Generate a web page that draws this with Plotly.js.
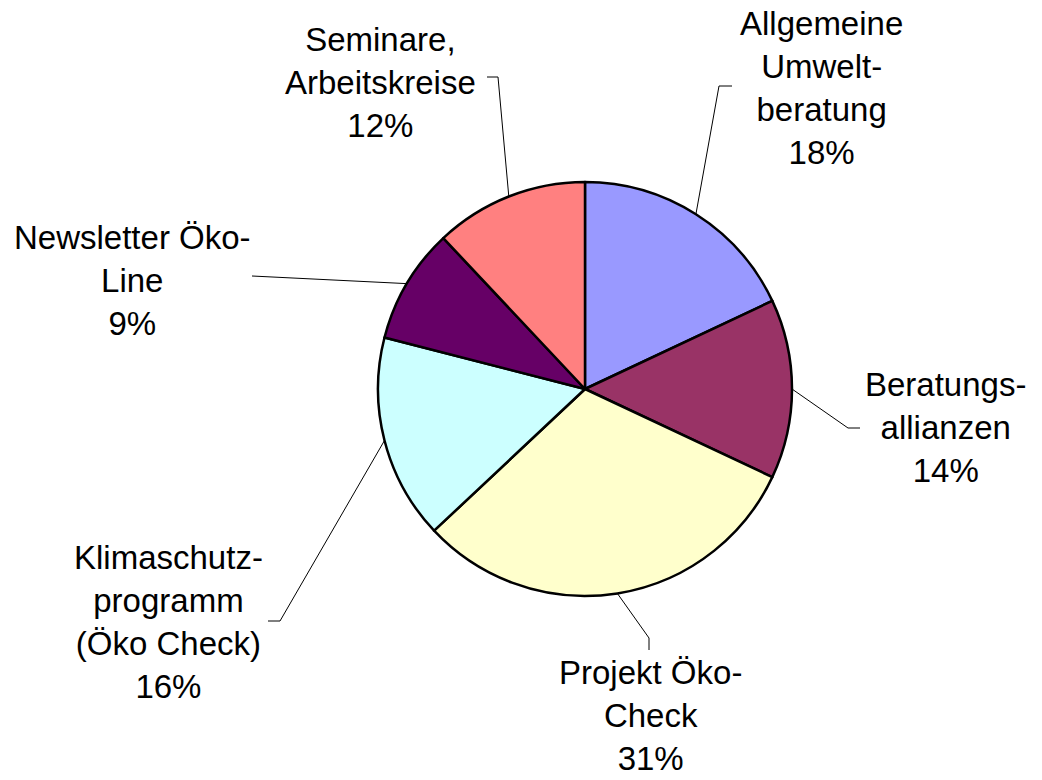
<!DOCTYPE html>
<html>
<head>
<meta charset="utf-8">
<script src="https://cdn.plot.ly/plotly-3.0.1.min.js"></script>
<style>html,body{margin:0;padding:0;background:#fff;}#chart{width:1042px;height:780px;}</style>
</head>
<body>
<div id="chart"></div>
<script>
// ---- data ----
const categories = [
  "Allgemeine Umweltberatung",
  "Beratungsallianzen",
  "Projekt Öko-Check",
  "Klimaschutzprogramm (Öko Check)",
  "Newsletter Öko-Line",
  "Seminare, Arbeitskreise"
];
const labelTexts = [
  "Allgemeine<br>Umwelt-<br>beratung",
  "Beratungs-<br>allianzen",
  "Projekt Öko-<br>Check",
  "Klimaschutz-<br>programm<br>(Öko Check)",
  "Newsletter Öko-<br>Line",
  "Seminare,<br>Arbeitskreise"
];
const values = [18, 14, 31, 16, 9, 12];
const colors = ["#9999FF", "#993366", "#FFFFCC", "#CCFFFF", "#660066", "#FF8080"];

// ---- layout / placement (pixels) ----
const W = 1042, H = 780;
const CX = 585, CY = 389, R = 207;
// label centre and leader elbow / end points, per slice
const labelPos = [[821, 88], [945, 427], [650, 715], [168, 622], [132, 280], [380, 83]];
const leaderPts = [
  [[719, 86], [732, 86]],
  [[848, 428], [860, 428]],
  [[649, 638], [649, 650]],
  [[280, 621], [268, 621]],
  [[252, 276]],
  [[498, 77], [487, 77]]
];

const fx = x => x / W;
const fy = y => 1 - y / H;

const total = values.reduce((a, b) => a + b, 0);
const annotations = [];
const shapes = [];
let cum = 0;
values.forEach((v, i) => {
  const mid = (cum + v / 2) / total * 2 * Math.PI;
  cum += v;
  const ex = CX + R * Math.sin(mid);
  const ey = CY - R * Math.cos(mid);
  let path = `M ${fx(ex)} ${fy(ey)}`;
  leaderPts[i].forEach(p => { path += ` L ${fx(p[0])} ${fy(p[1])}`; });
  shapes.push({type: 'path', xref: 'paper', yref: 'paper', path: path,
    line: {color: '#000', width: 1}});
  const pct = Math.round(v / total * 100) + '%';
  annotations.push({
    xref: 'paper', yref: 'paper',
    x: fx(labelPos[i][0]), y: fy(labelPos[i][1]),
    xanchor: 'center', yanchor: 'middle', align: 'center',
    showarrow: false, borderpad: 0,
    text: labelTexts[i] + '<br>' + pct,
    font: {family: 'Arial, "Liberation Sans", sans-serif', size: 33, color: '#000'}
  });
});

const trace = {
  type: 'pie',
  labels: categories,
  values: values,
  sort: false,
  direction: 'clockwise',
  rotation: 0,
  textinfo: 'none',
  hoverinfo: 'label+percent',
  marker: {colors: colors, line: {color: '#000', width: 2.5}},
  domain: {x: [fx(CX - R), fx(CX + R)], y: [fy(CY + R), fy(CY - R)]},
  showlegend: false
};

const layout = {
  width: W, height: H,
  margin: {l: 0, r: 0, t: 0, b: 0},
  paper_bgcolor: '#fff',
  showlegend: false,
  annotations: annotations,
  shapes: shapes
};

Plotly.newPlot('chart', [trace], layout, {displayModeBar: false, staticPlot: true});
</script>
</body>
</html>
